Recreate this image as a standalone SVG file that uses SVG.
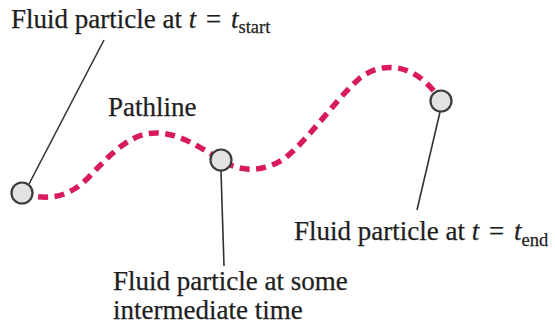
<svg xmlns="http://www.w3.org/2000/svg" width="555" height="327" viewBox="0 0 555 327">
<style>
text{font-family:"Liberation Serif","Times New Roman",serif;font-size:27px;fill:#1e1e1e;stroke:#1e1e1e;stroke-width:0.25}
.it{font-style:italic}
.sub{font-size:18.5px}
.lead{stroke:#333;stroke-width:1.6;fill:none}
.path{stroke:#d81b5e;stroke-width:5.5;fill:none;stroke-dasharray:10 6.5}
.p{fill:#e2e2e2;stroke:#3a3a3a;stroke-width:2.2}
</style>
<rect width="555" height="327" fill="#fff"/>
<g id="connectors">
<path class="path" d="M22,193 C50,202 70,196 88,178 C110,155 130,132 158,133 C180,134 198,146 221,160 C240,173 265,172 285,158 C310,138 335,100 360,78 C380,62 415,60 441,101"/>
<line class="lead" x1="104" y1="40" x2="29" y2="184"/>
<line class="lead" x1="221" y1="171" x2="224" y2="266"/>
<line class="lead" x1="440" y1="112" x2="417" y2="210"/>
</g>
<g id="p-start"><circle class="p" cx="22" cy="193" r="10.5"/></g>
<g id="p-mid"><circle class="p" cx="221" cy="160" r="10.5"/></g>
<g id="p-end"><circle class="p" cx="441" cy="101" r="10.5"/></g>
<g id="label-start"><text x="11" y="28">Fluid particle at <tspan class="it">t</tspan><tspan dx="3"> = </tspan><tspan class="it" dx="3">t</tspan><tspan class="sub" dy="5">start</tspan></text></g>
<g id="label-pathline"><text x="108" y="116">Pathline</text></g>
<g id="label-end"><text x="294" y="240">Fluid particle at <tspan class="it">t</tspan><tspan dx="3"> = </tspan><tspan class="it" dx="3">t</tspan><tspan class="sub" dy="6">end</tspan></text></g>
<g id="label-mid"><text x="113" y="290">Fluid particle at some</text><text x="113" y="319">intermediate time</text></g>
</svg>
